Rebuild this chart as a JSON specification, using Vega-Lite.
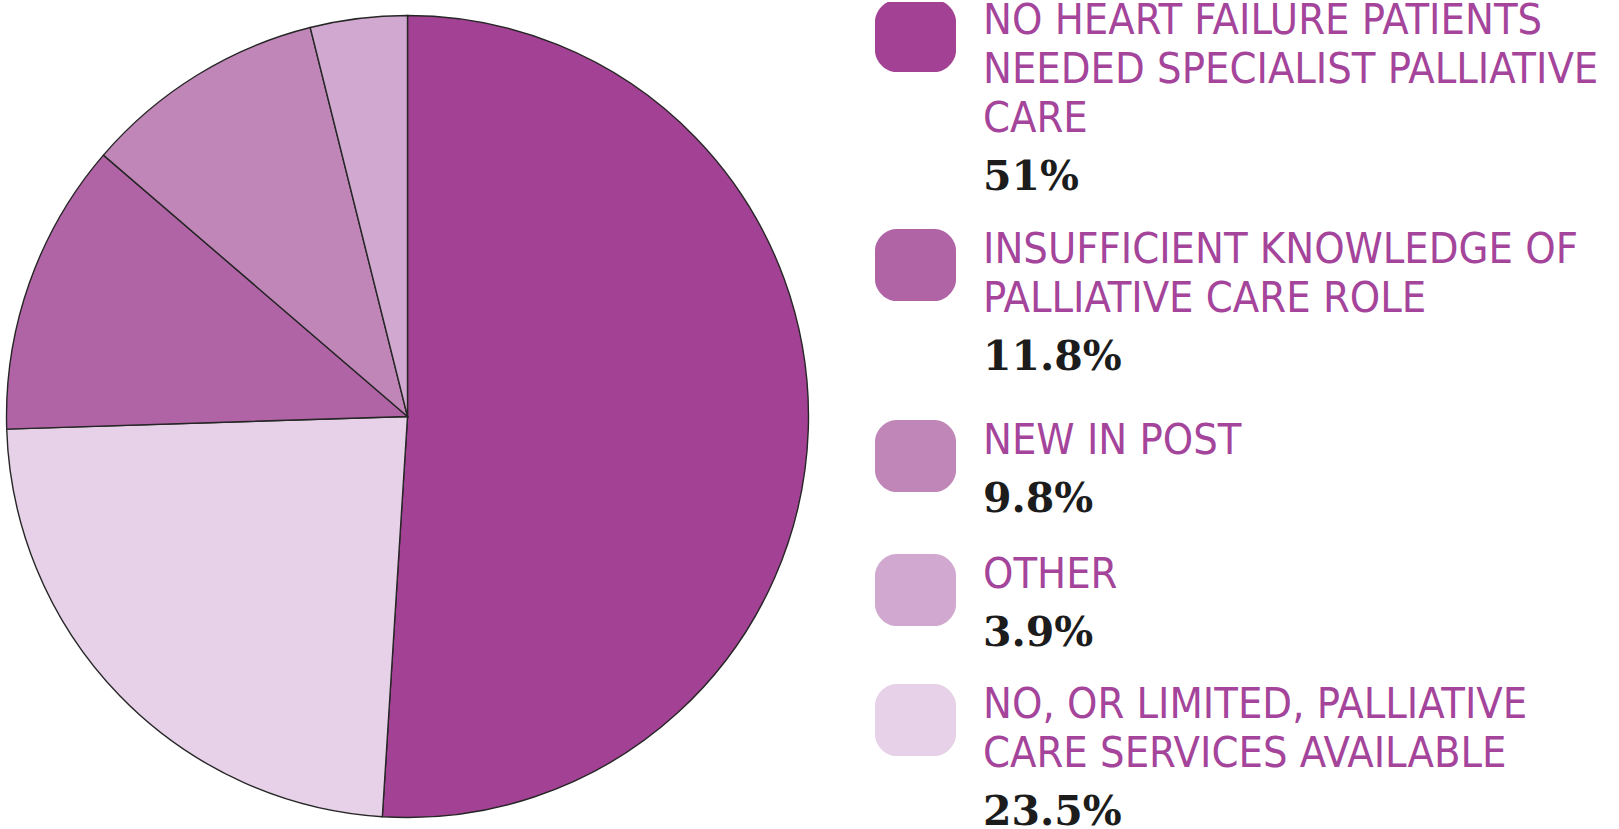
{
  "$schema": "https://vega.github.io/schema/vega-lite/v6.json",
  "background": "white",
  "padding": 0,
  "spacing": 60,
  "config": {"view": {"stroke": null}},
  "datasets": {
    "shares": [
      {"category": "NO HEART FAILURE PATIENTS NEEDED SPECIALIST PALLIATIVE CARE", "share": 51},
      {"category": "NO, OR LIMITED, PALLIATIVE CARE SERVICES AVAILABLE", "share": 23.5},
      {"category": "INSUFFICIENT KNOWLEDGE OF PALLIATIVE CARE ROLE", "share": 11.8},
      {"category": "NEW IN POST", "share": 9.8},
      {"category": "OTHER", "share": 3.9}
    ],
    "legend": [
      {"category": "NO HEART FAILURE PATIENTS NEEDED SPECIALIST PALLIATIVE CARE", "part": "name", "text": "NO HEART FAILURE PATIENTS"},
      {"category": "NO HEART FAILURE PATIENTS NEEDED SPECIALIST PALLIATIVE CARE", "part": "name", "text": "NEEDED SPECIALIST PALLIATIVE"},
      {"category": "NO HEART FAILURE PATIENTS NEEDED SPECIALIST PALLIATIVE CARE", "part": "name", "text": "CARE"},
      {"category": "NO HEART FAILURE PATIENTS NEEDED SPECIALIST PALLIATIVE CARE", "part": "share", "text": "51%"},
      {"category": "INSUFFICIENT KNOWLEDGE OF PALLIATIVE CARE ROLE", "part": "name", "text": "INSUFFICIENT KNOWLEDGE OF"},
      {"category": "INSUFFICIENT KNOWLEDGE OF PALLIATIVE CARE ROLE", "part": "name", "text": "PALLIATIVE CARE ROLE"},
      {"category": "INSUFFICIENT KNOWLEDGE OF PALLIATIVE CARE ROLE", "part": "share", "text": "11.8%"},
      {"category": "NEW IN POST", "part": "name", "text": "NEW IN POST"},
      {"category": "NEW IN POST", "part": "share", "text": "9.8%"},
      {"category": "OTHER", "part": "name", "text": "OTHER"},
      {"category": "OTHER", "part": "share", "text": "3.9%"},
      {"category": "NO, OR LIMITED, PALLIATIVE CARE SERVICES AVAILABLE", "part": "name", "text": "NO, OR LIMITED, PALLIATIVE"},
      {"category": "NO, OR LIMITED, PALLIATIVE CARE SERVICES AVAILABLE", "part": "name", "text": "CARE SERVICES AVAILABLE"},
      {"category": "NO, OR LIMITED, PALLIATIVE CARE SERVICES AVAILABLE", "part": "share", "text": "23.5%"}
    ]
  },
  "hconcat": [
    {
      "width": 815,
      "height": 829,
      "data": {"name": "shares"},
      "mark": {"type": "arc", "outerRadius": 401, "stroke": "#262626", "strokeWidth": 1.4},
      "encoding": {
        "theta": {"field": "share", "type": "quantitative", "stack": true},
        "order": {"field": "share", "sort": "descending"},
        "color": {
          "field": "category", "type": "nominal",
          "scale": {
            "domain": ["NO HEART FAILURE PATIENTS NEEDED SPECIALIST PALLIATIVE CARE", "INSUFFICIENT KNOWLEDGE OF PALLIATIVE CARE ROLE", "NEW IN POST", "OTHER", "NO, OR LIMITED, PALLIATIVE CARE SERVICES AVAILABLE"],
            "range": ["#A34294", "#B064A6", "#C086B8", "#D1A8CF", "#E6D1E8"]
          },
          "legend": null
        }
      }
    },
    {
      "spacing": 0,
      "bounds": "flush",
      "resolve": {"scale": {"y": "independent"}},
      "vconcat": [
        {
          "width": 81, "height": 228.9,
          "data": {"name": "legend"},
          "transform": [{"filter": {"field": "category", "equal": "NO HEART FAILURE PATIENTS NEEDED SPECIALIST PALLIATIVE CARE"}}, {"window": [{"op": "row_number", "as": "j"}]}],
          "encoding": {"y": {"field": "j", "type": "quantitative", "scale": {"domain": [0.3469, 5.0183], "reverse": true, "nice": false, "zero": false}, "axis": null}},
          "layer": [
            {"transform": [{"filter": "datum.j == 1"}], "mark": {"type": "point", "shape": "M -0.48,-0.889 L 0.48,-0.889 C 0.767,-0.889 1,-0.602 1,-0.369 L 1,0.369 C 1,0.602 0.767,0.889 0.48,0.889 L -0.48,0.889 C -0.767,0.889 -1,0.602 -1,0.369 L -1,-0.369 C -1,-0.602 -0.767,-0.889 -0.48,-0.889 Z", "size": 6561, "filled": true, "opacity": 1, "strokeWidth": 0, "yOffset": 2, "clip": true},
             "encoding": {"color": {"field": "category", "type": "nominal", "scale": {"domain": ["NO HEART FAILURE PATIENTS NEEDED SPECIALIST PALLIATIVE CARE", "INSUFFICIENT KNOWLEDGE OF PALLIATIVE CARE ROLE", "NEW IN POST", "OTHER", "NO, OR LIMITED, PALLIATIVE CARE SERVICES AVAILABLE"], "range": ["#A34294", "#B064A6", "#C086B8", "#D1A8CF", "#E6D1E8"]}, "legend": null}}},
            {"transform": [{"filter": {"field": "part", "equal": "name"}}], "mark": {"type": "text", "align": "left", "baseline": "alphabetic", "dx": 67.5, "font": "DejaVu Sans Condensed", "fontSize": 43, "fill": "#A4449A"}, "encoding": {"text": {"field": "text"}}},
            {"transform": [{"filter": {"field": "part", "equal": "share"}}], "mark": {"type": "text", "align": "left", "baseline": "alphabetic", "dx": 67.5, "dy": 9, "font": "DejaVu Serif", "fontWeight": "bold", "fontSize": 41, "fill": "#1c1c1c"}, "encoding": {"text": {"field": "text"}}}
          ]
        },
        {
          "width": 81, "height": 191,
          "data": {"name": "legend"},
          "transform": [{"filter": {"field": "category", "equal": "INSUFFICIENT KNOWLEDGE OF PALLIATIVE CARE ROLE"}}, {"window": [{"op": "row_number", "as": "j"}]}],
          "encoding": {"y": {"field": "j", "type": "quantitative", "scale": {"domain": [0.3469, 4.2449], "reverse": true, "nice": false, "zero": false}, "axis": null}},
          "layer": [
            {"transform": [{"filter": "datum.j == 1"}], "mark": {"type": "point", "shape": "M -0.48,-0.889 L 0.48,-0.889 C 0.767,-0.889 1,-0.602 1,-0.369 L 1,0.369 C 1,0.602 0.767,0.889 0.48,0.889 L -0.48,0.889 C -0.767,0.889 -1,0.602 -1,0.369 L -1,-0.369 C -1,-0.602 -0.767,-0.889 -0.48,-0.889 Z", "size": 6561, "filled": true, "opacity": 1, "strokeWidth": 0, "yOffset": 2},
             "encoding": {"color": {"field": "category", "type": "nominal", "scale": {"domain": ["NO HEART FAILURE PATIENTS NEEDED SPECIALIST PALLIATIVE CARE", "INSUFFICIENT KNOWLEDGE OF PALLIATIVE CARE ROLE", "NEW IN POST", "OTHER", "NO, OR LIMITED, PALLIATIVE CARE SERVICES AVAILABLE"], "range": ["#A34294", "#B064A6", "#C086B8", "#D1A8CF", "#E6D1E8"]}, "legend": null}}},
            {"transform": [{"filter": {"field": "part", "equal": "name"}}], "mark": {"type": "text", "align": "left", "baseline": "alphabetic", "dx": 67.5, "font": "DejaVu Sans Condensed", "fontSize": 43, "fill": "#A4449A"}, "encoding": {"text": {"field": "text"}}},
            {"transform": [{"filter": {"field": "part", "equal": "share"}}], "mark": {"type": "text", "align": "left", "baseline": "alphabetic", "dx": 67.5, "dy": 9, "font": "DejaVu Serif", "fontWeight": "bold", "fontSize": 41, "fill": "#1c1c1c"}, "encoding": {"text": {"field": "text"}}}
          ]
        },
        {
          "width": 81, "height": 133.7,
          "data": {"name": "legend"},
          "transform": [{"filter": {"field": "category", "equal": "NEW IN POST"}}, {"window": [{"op": "row_number", "as": "j"}]}],
          "encoding": {"y": {"field": "j", "type": "quantitative", "scale": {"domain": [0.3469, 3.0755], "reverse": true, "nice": false, "zero": false}, "axis": null}},
          "layer": [
            {"transform": [{"filter": "datum.j == 1"}], "mark": {"type": "point", "shape": "M -0.48,-0.889 L 0.48,-0.889 C 0.767,-0.889 1,-0.602 1,-0.369 L 1,0.369 C 1,0.602 0.767,0.889 0.48,0.889 L -0.48,0.889 C -0.767,0.889 -1,0.602 -1,0.369 L -1,-0.369 C -1,-0.602 -0.767,-0.889 -0.48,-0.889 Z", "size": 6561, "filled": true, "opacity": 1, "strokeWidth": 0, "yOffset": 2},
             "encoding": {"color": {"field": "category", "type": "nominal", "scale": {"domain": ["NO HEART FAILURE PATIENTS NEEDED SPECIALIST PALLIATIVE CARE", "INSUFFICIENT KNOWLEDGE OF PALLIATIVE CARE ROLE", "NEW IN POST", "OTHER", "NO, OR LIMITED, PALLIATIVE CARE SERVICES AVAILABLE"], "range": ["#A34294", "#B064A6", "#C086B8", "#D1A8CF", "#E6D1E8"]}, "legend": null}}},
            {"transform": [{"filter": {"field": "part", "equal": "name"}}], "mark": {"type": "text", "align": "left", "baseline": "alphabetic", "dx": 67.5, "font": "DejaVu Sans Condensed", "fontSize": 43, "fill": "#A4449A"}, "encoding": {"text": {"field": "text"}}},
            {"transform": [{"filter": {"field": "part", "equal": "share"}}], "mark": {"type": "text", "align": "left", "baseline": "alphabetic", "dx": 67.5, "dy": 9, "font": "DejaVu Serif", "fontWeight": "bold", "fontSize": 41, "fill": "#1c1c1c"}, "encoding": {"text": {"field": "text"}}}
          ]
        },
        {
          "width": 81, "height": 130,
          "data": {"name": "legend"},
          "transform": [{"filter": {"field": "category", "equal": "OTHER"}}, {"window": [{"op": "row_number", "as": "j"}]}],
          "encoding": {"y": {"field": "j", "type": "quantitative", "scale": {"domain": [0.3469, 3.0], "reverse": true, "nice": false, "zero": false}, "axis": null}},
          "layer": [
            {"transform": [{"filter": "datum.j == 1"}], "mark": {"type": "point", "shape": "M -0.48,-0.889 L 0.48,-0.889 C 0.767,-0.889 1,-0.602 1,-0.369 L 1,0.369 C 1,0.602 0.767,0.889 0.48,0.889 L -0.48,0.889 C -0.767,0.889 -1,0.602 -1,0.369 L -1,-0.369 C -1,-0.602 -0.767,-0.889 -0.48,-0.889 Z", "size": 6561, "filled": true, "opacity": 1, "strokeWidth": 0, "yOffset": 2},
             "encoding": {"color": {"field": "category", "type": "nominal", "scale": {"domain": ["NO HEART FAILURE PATIENTS NEEDED SPECIALIST PALLIATIVE CARE", "INSUFFICIENT KNOWLEDGE OF PALLIATIVE CARE ROLE", "NEW IN POST", "OTHER", "NO, OR LIMITED, PALLIATIVE CARE SERVICES AVAILABLE"], "range": ["#A34294", "#B064A6", "#C086B8", "#D1A8CF", "#E6D1E8"]}, "legend": null}}},
            {"transform": [{"filter": {"field": "part", "equal": "name"}}], "mark": {"type": "text", "align": "left", "baseline": "alphabetic", "dx": 67.5, "font": "DejaVu Sans Condensed", "fontSize": 43, "fill": "#A4449A"}, "encoding": {"text": {"field": "text"}}},
            {"transform": [{"filter": {"field": "part", "equal": "share"}}], "mark": {"type": "text", "align": "left", "baseline": "alphabetic", "dx": 67.5, "dy": 9, "font": "DejaVu Serif", "fontWeight": "bold", "fontSize": 41, "fill": "#1c1c1c"}, "encoding": {"text": {"field": "text"}}}
          ]
        },
        {
          "width": 81, "height": 145.4,
          "data": {"name": "legend"},
          "transform": [{"filter": {"field": "category", "equal": "NO, OR LIMITED, PALLIATIVE CARE SERVICES AVAILABLE"}}, {"window": [{"op": "row_number", "as": "j"}]}],
          "encoding": {"y": {"field": "j", "type": "quantitative", "scale": {"domain": [0.3469, 3.3142], "reverse": true, "nice": false, "zero": false}, "axis": null}},
          "layer": [
            {"transform": [{"filter": "datum.j == 1"}], "mark": {"type": "point", "shape": "M -0.48,-0.889 L 0.48,-0.889 C 0.767,-0.889 1,-0.602 1,-0.369 L 1,0.369 C 1,0.602 0.767,0.889 0.48,0.889 L -0.48,0.889 C -0.767,0.889 -1,0.602 -1,0.369 L -1,-0.369 C -1,-0.602 -0.767,-0.889 -0.48,-0.889 Z", "size": 6561, "filled": true, "opacity": 1, "strokeWidth": 0, "yOffset": 2},
             "encoding": {"color": {"field": "category", "type": "nominal", "scale": {"domain": ["NO HEART FAILURE PATIENTS NEEDED SPECIALIST PALLIATIVE CARE", "INSUFFICIENT KNOWLEDGE OF PALLIATIVE CARE ROLE", "NEW IN POST", "OTHER", "NO, OR LIMITED, PALLIATIVE CARE SERVICES AVAILABLE"], "range": ["#A34294", "#B064A6", "#C086B8", "#D1A8CF", "#E6D1E8"]}, "legend": null}}},
            {"transform": [{"filter": {"field": "part", "equal": "name"}}], "mark": {"type": "text", "align": "left", "baseline": "alphabetic", "dx": 67.5, "font": "DejaVu Sans Condensed", "fontSize": 43, "fill": "#A4449A"}, "encoding": {"text": {"field": "text"}}},
            {"transform": [{"filter": {"field": "part", "equal": "share"}}], "mark": {"type": "text", "align": "left", "baseline": "alphabetic", "dx": 67.5, "dy": 9, "font": "DejaVu Serif", "fontWeight": "bold", "fontSize": 41, "fill": "#1c1c1c"}, "encoding": {"text": {"field": "text"}}}
          ]
        }
      ]
    }
  ]
}
